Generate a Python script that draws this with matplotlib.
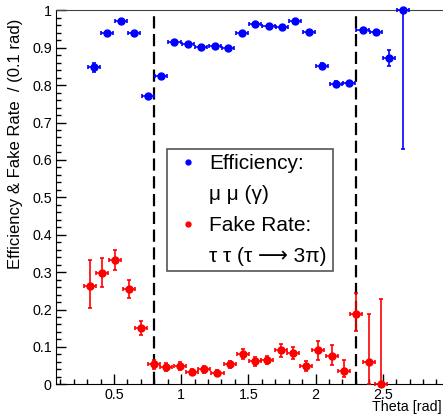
import matplotlib
matplotlib.use('Agg')
import matplotlib.pyplot as plt
from matplotlib.lines import Line2D
from matplotlib.ticker import MultipleLocator, FuncFormatter

plt.rcParams['font.family'] = ['Liberation Sans', 'DejaVu Sans']

# efficiency, mu mu (gamma)
eff_theta = [0.35, 0.45, 0.55, 0.65, 0.75, 0.85, 0.95, 1.05, 1.15, 1.25, 1.35, 1.45,
             1.55, 1.65, 1.75, 1.85, 1.95, 2.05, 2.15, 2.25, 2.35, 2.45, 2.55, 2.65]
eff_value = [0.848, 0.939, 0.972, 0.938, 0.771, 0.824, 0.914, 0.910, 0.903, 0.904, 0.899, 0.938,
             0.963, 0.959, 0.955, 0.971, 0.942, 0.852, 0.803, 0.805, 0.947, 0.942, 0.872, 1.0]
eff_err_lo = [0.012, 0.006, 0.006, 0.006, 0.006, 0.006, 0.005, 0.005, 0.005, 0.005, 0.005, 0.005,
              0.005, 0.005, 0.005, 0.005, 0.005, 0.007, 0.007, 0.006, 0.006, 0.006, 0.021, 0.37]
eff_err_hi = [0.012, 0.006, 0.006, 0.006, 0.006, 0.006, 0.005, 0.005, 0.005, 0.005, 0.005, 0.005,
              0.005, 0.005, 0.005, 0.005, 0.005, 0.007, 0.007, 0.006, 0.006, 0.006, 0.021, 0.0]

# fake rate, tau tau (tau -> 3pi)
fake_theta = [0.32, 0.41, 0.51, 0.61, 0.70, 0.80, 0.89, 0.99, 1.08, 1.17, 1.27, 1.36,
              1.46, 1.55, 1.64, 1.74, 1.83, 1.93, 2.02, 2.12, 2.21, 2.30, 2.40, 2.49]
fake_value = [0.264, 0.298, 0.332, 0.255, 0.151, 0.053, 0.046, 0.049, 0.033, 0.040, 0.031, 0.053,
              0.081, 0.061, 0.065, 0.091, 0.084, 0.049, 0.091, 0.077, 0.036, 0.188, 0.060, 0.0]
fake_err_lo = [0.060, 0.038, 0.027, 0.024, 0.019, 0.012, 0.010, 0.010, 0.009, 0.010, 0.008, 0.010,
               0.013, 0.012, 0.012, 0.018, 0.017, 0.013, 0.025, 0.026, 0.017, 0.046, 0.060, 0.0]
fake_err_hi = [0.069, 0.041, 0.028, 0.025, 0.017, 0.012, 0.010, 0.010, 0.009, 0.010, 0.008, 0.010,
               0.013, 0.012, 0.012, 0.018, 0.017, 0.013, 0.025, 0.027, 0.028, 0.055, 0.129, 0.227]

theta_halfwidth = 0.045
cut_theta = [0.8, 2.3]

legend_labels = ['Efficiency:', 'μ μ (γ)', 'Fake Rate:', 'τ τ (τ ⟶ 3π)']

W, H = 443, 417
fig = plt.figure(figsize=(W / 100, H / 100), dpi=100)
ax = fig.add_axes([56 / W, 1 - 384.3 / H, (W - 56) / W, (384.3 - 10.3) / H])

for t in cut_theta:
    ax.axvline(t, color='black', lw=1.6, ls=(0, (5.5, 2.5)), zorder=1)

ax.errorbar(eff_theta, eff_value, yerr=[eff_err_lo, eff_err_hi], xerr=theta_halfwidth,
            fmt='o', color='blue', ms=5, elinewidth=1.2, capsize=1.5, capthick=1.2,
            clip_on=False, zorder=3)
ax.errorbar(fake_theta, fake_value, yerr=[fake_err_lo, fake_err_hi], xerr=theta_halfwidth,
            fmt='o', color='red', ms=5, elinewidth=1.2, capsize=1.5, capthick=1.2,
            clip_on=False, zorder=3)

ax.set_xlim(0.068, 2.949)
ax.set_ylim(0, 1)

ax.xaxis.set_major_locator(MultipleLocator(0.5))
ax.xaxis.set_minor_locator(MultipleLocator(0.1))
ax.yaxis.set_major_locator(MultipleLocator(0.1))
ax.yaxis.set_minor_locator(MultipleLocator(0.02))
fmt = FuncFormatter(lambda v, p: f'{round(v, 3):g}')
ax.xaxis.set_major_formatter(fmt)
ax.yaxis.set_major_formatter(fmt)
ax.tick_params(which='both', direction='in', top=False, right=False, width=1, labelsize=10.3)
ax.tick_params(which='major', length=7)
ax.tick_params(which='minor', length=3.5)
ax.tick_params(axis='x', pad=3)
ax.tick_params(axis='y', pad=3)

ax.spines['right'].set_visible(False)
ax.spines['top'].set_color('#444444')

ax.set_ylabel('Efficiency & Fake Rate  / (0.1 rad)', fontsize=12, loc='top')
ax.yaxis.set_label_coords(-0.085, 0.979)
ax.set_xlabel('Theta [rad]', fontsize=10.3, loc='right')
ax.xaxis.set_label_coords(0.997, -0.043)

handles = [Line2D([], [], ls='none', marker='o', color='blue', ms=3.5),
           Line2D([], [], ls='none'),
           Line2D([], [], ls='none', marker='o', color='red', ms=3.5),
           Line2D([], [], ls='none')]
leg = ax.legend(handles, legend_labels, loc='upper left',
                bbox_to_anchor=(0.2876, 0.301, 0.4275, 0.328), mode='expand',
                borderaxespad=0, fontsize=15, borderpad=0.235, labelspacing=0.58,
                handlelength=1.55, handletextpad=0.235, fancybox=False, framealpha=1)
leg.get_frame().set_edgecolor('#555555')
leg.get_frame().set_linewidth(1.2)
leg.set_zorder(5)

fig.savefig('out.png', dpi=100)
